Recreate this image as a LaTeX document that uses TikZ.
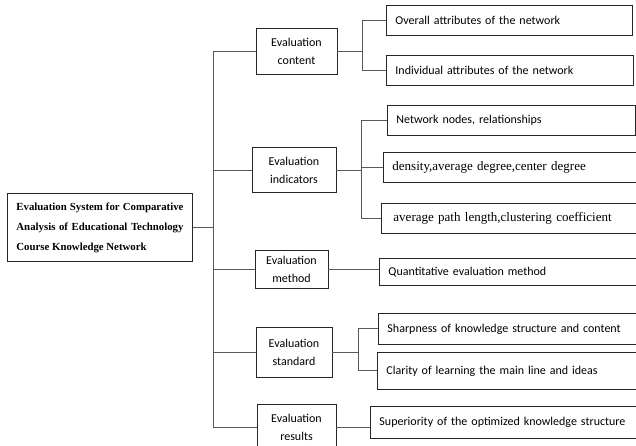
\documentclass[tikz,border=0pt]{standalone}
\usepackage{fontspec}
\setmainfont{Liberation Serif}
\newfontfamily\carl{Carlito}
\begin{document}
\begin{tikzpicture}[x=1pt,y=-1pt,
  box/.style={draw=black!85, line width=0.9pt, inner sep=0pt},
  lvl/.style={box, align=center, font=\carl\fontsize{12}{18}\selectfont},
  leaf/.style={box, anchor=north west, inner xsep=9pt, align=left, font=\carl\fontsize{12}{14}\selectfont},
  leafs/.style={leaf, font=\fontsize{13}{15}\selectfont},
  conn/.style={draw=black!65, line width=1pt}]
\useasboundingbox (0,0) rectangle (636,445);
% root
\node[box, anchor=north west, text width=167pt, inner xsep=9pt, minimum height=68pt, align=justify,
  font=\bfseries\fontsize{10.8}{20}\selectfont] (root) at (7,193)
  {Evaluation System for Comparative Analysis of Educational Technology Course Knowledge Network};
% level 1
\node[lvl, minimum width=81pt, minimum height=46pt] (c1) at (296.5,51) {Evaluation\\content};
\node[lvl, minimum width=84pt, minimum height=45pt] (c2) at (294,170) {Evaluation\\indicators};
\node[lvl, minimum width=73pt, minimum height=38pt] (c3) at (291.5,269) {Evaluation\\method};
\node[lvl, minimum width=76pt, minimum height=50pt] (c4) at (294,352) {Evaluation\\standard};
\node[lvl, minimum width=79pt, minimum height=46pt] (c5) at (296.5,427) {Evaluation\\results};
% level 2
\node[leaf, text width=228pt, minimum height=30pt] (o1) at (386,5) {Overall attributes of the network};
\node[leaf, text width=229pt, minimum height=30pt] (o2) at (386,55) {Individual attributes of the network};
\node[leaf, text width=230pt, minimum height=30pt] (i1) at (387,105) {Network nodes, relationships};
\node[leafs, text width=242pt, minimum height=30pt] (i2) at (383,152) {density,average degree,center degree};
\node[leafs, text width=242pt, minimum height=30pt, inner xsep=12pt] (i3) at (381,203) {average path length,clustering coefficient};
\node[leaf, text width=242pt, minimum height=27pt] (m1) at (379,258) {Quantitative evaluation method};
\node[leaf, text width=242pt, minimum height=31pt] (s1) at (378,313) {Sharpness of knowledge structure and content};
\node[leaf, text width=242pt, minimum height=37pt] (s2) at (377,352) {Clarity of learning the main line and ideas};
\node[leaf, text width=250pt, minimum height=32pt] (r1) at (370,406) {Superiority of the optimized knowledge structure};
% trunk
\coordinate (t) at (213,0);
\draw[conn] (root.east) -- (root.east -| t);
\path (c1.west -| t) coordinate (ttop);
\path (c5.west -| t) coordinate (tbot);
\draw[conn] (c1.west) -- (ttop) -- (tbot) -- (c5.west);
\draw[conn] (c2.west) -- (c2.west -| t);
\draw[conn] (c3.west) -- (c3.west -| t);
\draw[conn] (c4.west) -- (c4.west -| t);
% content group
\coordinate (j1) at (362,0);
\draw[conn] (c1.east) -- (c1.east -| j1);
\draw[conn] (o1.west) -- (o1.west -| j1) -- (o2.west -| j1) -- (o2.west);
% indicators group
\coordinate (j2) at (361,0);
\draw[conn] (c2.east) -- (c2.east -| j2);
\draw[conn] (i1.west) -- (i1.west -| j2) -- (i3.west -| j2) -- (i3.west);
\draw[conn] (i2.west) -- (i2.west -| j2);
% method
\draw[conn] (c3.east) -- (m1.west |- c3.east);
% standard group
\coordinate (j4) at (358,0);
\draw[conn] (c4.east) -- (c4.east -| j4);
\draw[conn] (s1.west) -- (s1.west -| j4) -- (s2.west -| j4) -- (s2.west);
% results
\draw[conn] (c5.east) -- (r1.west |- c5.east);
\end{tikzpicture}
\end{document}
